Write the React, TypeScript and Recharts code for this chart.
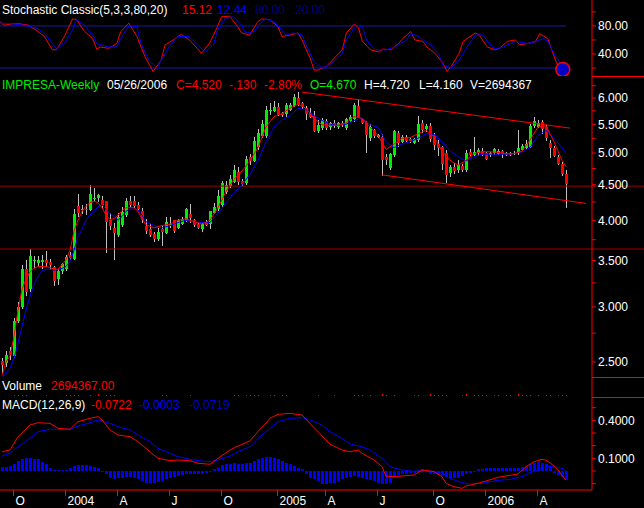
import React from 'react';
import { ComposedChart, Bar, Line, XAxis, YAxis, ReferenceLine, ReferenceDot } from 'recharts';

const FONT = '"Liberation Sans", Arial, Helvetica, sans-serif';
const WHITE = '#ffffff';
const GREEN = '#00ee00';
const RED = '#ff0000';
const BLUE = '#0000ff';
const NAVY = '#000088';
const LEVEL80 = '#1818b0';
const DARK_RED = '#a00000';
const WICK = '#c0c0c0';

const WIDTH = 644;
const AXIS_W = 52;
const SLOTS = 148; // 142 weekly bars + empty room before the price axis

// weekly bars, 12 Sep 2003 .. 26 May 2006
const opens = [
  2.51, 2.49, 2.59, 2.55, 2.86, 3.0, 3.4, 3.18, 3.5, 3.47,
  3.49, 3.5, 3.48, 3.42, 3.29, 3.38, 3.4, 3.56, 3.52, 4.2,
  4.14, 4.15, 4.15, 4.29, 4.3, 4.28, 4.27, 4.0, 3.9, 3.81,
  3.93, 4.07, 4.27, 4.27, 4.21, 4.12, 3.93, 3.89, 3.82, 3.76,
  3.88, 3.84, 3.94, 4.0, 3.9, 3.96, 4.0, 4.08, 4.0, 3.95,
  3.88, 3.97, 3.94, 4.1, 4.15, 4.2, 4.4, 4.48, 4.55, 4.7,
  4.55, 4.52, 4.94, 4.87, 5.1, 5.28, 5.3, 5.75, 5.76, 5.83,
  5.7, 5.68, 5.77, 5.86, 6.0, 5.9, 5.81, 5.71, 5.66, 5.38,
  5.43, 5.56, 5.44, 5.53, 5.45, 5.52, 5.44, 5.57, 5.6, 5.84,
  5.6, 5.54, 5.25, 5.39, 5.28, 5.28, 4.93, 4.75, 4.96, 5.35,
  5.2, 5.27, 5.23, 5.16, 5.22, 5.52, 5.4, 5.46, 5.3, 5.15,
  5.1, 5.0, 4.68, 4.77, 4.72, 4.79, 4.72, 5.02, 4.97, 5.0,
  5.03, 5.0, 4.96, 4.99, 4.99, 5.03, 5.0, 5.0, 5.0, 5.0,
  5.06, 5.08, 5.11, 5.47, 5.45, 5.54, 5.45, 5.17, 5.08, 4.94,
  4.82, 4.67,
];
const highs = [
  2.53, 2.59, 2.63, 2.89, 3.05, 3.45, 3.5, 3.64, 3.55, 3.55,
  3.57, 3.61, 3.52, 3.44, 3.4, 3.47, 3.56, 3.6, 4.15, 4.37,
  4.21, 4.22, 4.5, 4.45, 4.36, 4.33, 4.27, 4.1, 3.96, 4.1,
  4.18, 4.31, 4.33, 4.33, 4.25, 4.17, 4.02, 3.95, 3.85, 3.9,
  3.92, 4.05, 4.05, 4.0, 4.02, 4.04, 4.16, 4.22, 4.02, 3.97,
  3.98, 4.0, 4.13, 4.23, 4.42, 4.55, 4.55, 4.65, 4.8, 4.78,
  4.58, 4.95, 4.98, 5.28, 5.42, 5.58, 5.85, 5.9, 5.95, 5.9,
  5.72, 5.9, 5.9, 6.08, 6.13, 5.93, 5.85, 5.8, 5.75, 5.57,
  5.61, 5.6, 5.55, 5.57, 5.55, 5.56, 5.62, 5.68, 5.9, 5.98,
  5.62, 5.56, 5.5, 5.42, 5.33, 5.32, 4.98, 5.0, 5.4, 5.37,
  5.3, 5.3, 5.25, 5.25, 5.66, 5.58, 5.5, 5.52, 5.35, 5.22,
  5.12, 5.05, 4.8, 4.84, 4.88, 4.82, 5.05, 5.07, 5.28, 5.09,
  5.09, 5.02, 5.02, 5.08, 5.06, 5.05, 5.02, 5.02, 5.03, 5.4,
  5.15, 5.22, 5.5, 5.63, 5.58, 5.58, 5.48, 5.22, 5.12, 4.97,
  4.85, 4.72,
];
const lows = [
  2.41, 2.46, 2.52, 2.53, 2.84, 2.98, 3.11, 3.15, 3.41, 3.44,
  3.4, 3.43, 3.39, 3.22, 3.23, 3.35, 3.38, 3.5, 3.5, 4.05,
  4.08, 4.07, 4.12, 4.26, 4.25, 4.15, 3.59, 3.87, 3.5, 3.79,
  3.91, 4.05, 4.18, 4.16, 4.13, 3.97, 3.82, 3.79, 3.72, 3.74,
  3.67, 3.82, 3.9, 3.84, 3.88, 3.94, 3.98, 3.97, 3.91, 3.88,
  3.85, 3.92, 3.89, 4.08, 4.13, 4.16, 4.37, 4.45, 4.53, 4.5,
  4.48, 4.5, 4.8, 4.85, 5.05, 5.25, 5.25, 5.67, 5.72, 5.66,
  5.64, 5.64, 5.74, 5.82, 5.84, 5.78, 5.58, 5.62, 5.36, 5.34,
  5.4, 5.4, 5.4, 5.44, 5.42, 5.45, 5.4, 5.55, 5.55, 5.62,
  5.5, 5.0, 5.2, 5.25, 5.25, 4.64, 4.8, 4.73, 4.94, 5.1,
  5.16, 5.18, 5.17, 5.15, 5.18, 5.34, 5.36, 5.18, 5.05, 4.95,
  4.72, 4.52, 4.62, 4.66, 4.68, 4.7, 4.7, 4.95, 4.95, 4.95,
  4.95, 4.88, 4.94, 4.97, 4.97, 4.92, 4.95, 4.95, 4.96, 4.97,
  5.03, 5.05, 5.09, 5.44, 5.44, 5.33, 5.2, 4.92, 4.93, 4.8,
  4.64, 4.16,
];
const closes = [
  2.48, 2.56, 2.56, 2.86, 3.0, 3.4, 3.15, 3.55, 3.51, 3.51,
  3.51, 3.47, 3.45, 3.26, 3.38, 3.46, 3.54, 3.53, 4.09, 4.11,
  4.15, 4.13, 4.37, 4.3, 4.35, 4.21, 3.98, 3.92, 3.84, 4.04,
  4.11, 4.27, 4.21, 4.2, 4.15, 4.0, 3.86, 3.81, 3.76, 3.85,
  3.84, 3.98, 3.95, 3.86, 4.0, 4.02, 4.15, 4.02, 3.93, 3.9,
  3.95, 3.94, 4.12, 4.18, 4.33, 4.52, 4.5, 4.58, 4.73, 4.55,
  4.5, 4.9, 4.87, 5.2, 5.35, 5.5, 5.77, 5.77, 5.83, 5.68,
  5.66, 5.86, 5.86, 6.03, 5.86, 5.82, 5.69, 5.64, 5.38, 5.48,
  5.57, 5.43, 5.52, 5.48, 5.52, 5.48, 5.6, 5.64, 5.86, 5.64,
  5.53, 5.3, 5.45, 5.28, 5.31, 4.9, 4.88, 4.98, 5.37, 5.18,
  5.28, 5.2, 5.19, 5.23, 5.5, 5.39, 5.46, 5.23, 5.12, 5.08,
  4.82, 4.65, 4.78, 4.71, 4.8, 4.72, 5.0, 4.97, 5.02, 5.05,
  4.96, 4.9, 5.0, 5.06, 5.04, 4.98, 4.97, 4.97, 4.98, 5.09,
  5.12, 5.15, 5.47, 5.56, 5.53, 5.42, 5.25, 5.08, 4.95, 4.82,
  4.67, 4.52,
];

// moving averages on the price panel: [bar index, value]
const maFast: [number, number][] = [
  [0, 2.39], [1, 2.5], [2, 2.55], [3, 2.72], [4, 2.97], [5, 3.18], [6, 3.29], [7, 3.37], [8, 3.41], [9, 3.43],
  [10, 3.43], [11, 3.43], [12, 3.42], [13, 3.4], [14, 3.4], [15, 3.45], [16, 3.51], [17, 3.62], [18, 3.86], [19, 4.0],
  [20, 4.12], [21, 4.19], [22, 4.24], [23, 4.26], [24, 4.24], [25, 4.17], [26, 4.07], [27, 4.01], [28, 4.02], [29, 4.07],
  [30, 4.13], [31, 4.17], [32, 4.17], [33, 4.17], [34, 4.12], [35, 4.02], [36, 3.94], [38, 3.9], [40, 3.93], [42, 3.95],
  [44, 4.0], [46, 4.02], [48, 3.98], [50, 3.95], [52, 4.0], [54, 4.17], [56, 4.4], [58, 4.58], [60, 4.71], [62, 4.87],
  [64, 5.09], [66, 5.45], [68, 5.64], [70, 5.7], [72, 5.8], [74, 5.88], [76, 5.8], [78, 5.61], [80, 5.49], [82, 5.48],
  [84, 5.48], [86, 5.52], [88, 5.64], [90, 5.61], [92, 5.45], [94, 5.3], [96, 5.06], [98, 5.15], [100, 5.25], [102, 5.26],
  [104, 5.33], [106, 5.39], [108, 5.28], [110, 5.03], [112, 4.88], [114, 4.8], [116, 4.88], [118, 4.99], [120, 5.02], [122, 5.02],
  [124, 5.01], [126, 4.99], [128, 4.99], [130, 5.03], [132, 5.22], [134, 5.45], [136, 5.47], [138, 5.19], [140, 4.88], [141, 4.78],
];
const maSlow: [number, number][] = [
  [0, 2.37], [2, 2.45], [3, 2.53], [4, 2.66], [5, 2.81], [6, 2.97], [7, 3.11], [8, 3.23], [9, 3.32], [10, 3.38],
  [11, 3.4], [12, 3.4], [13, 3.39], [14, 3.4], [15, 3.41], [16, 3.43], [17, 3.49], [18, 3.62], [19, 3.79], [20, 3.88],
  [21, 4.0], [22, 4.07], [23, 4.12], [24, 4.18], [25, 4.21], [26, 4.15], [27, 4.09], [28, 4.05], [29, 4.0], [30, 4.05],
  [31, 4.12], [32, 4.15], [33, 4.15], [34, 4.14], [35, 4.07], [36, 3.98], [38, 3.93], [40, 3.9], [42, 3.93], [44, 3.97],
  [46, 4.0], [48, 3.98], [50, 3.97], [52, 3.97], [54, 4.09], [56, 4.24], [58, 4.38], [60, 4.5], [62, 4.66], [64, 4.88],
  [66, 5.18], [68, 5.45], [70, 5.58], [72, 5.66], [74, 5.8], [76, 5.77], [78, 5.66], [80, 5.57], [82, 5.5], [84, 5.48],
  [86, 5.5], [88, 5.57], [90, 5.61], [92, 5.49], [94, 5.45], [96, 5.19], [98, 5.09], [100, 5.15], [102, 5.19], [104, 5.25],
  [106, 5.33], [108, 5.32], [110, 5.19], [112, 5.03], [114, 4.94], [116, 4.87], [118, 4.94], [120, 4.98], [122, 4.98], [124, 4.98],
  [126, 4.98], [128, 4.99], [130, 5.02], [132, 5.09], [134, 5.3], [136, 5.39], [138, 5.25], [140, 5.09], [141, 4.99],
];

// stochastic %K (red) and %D (blue)
const stochK: [number, number][] = [
  [0, 86], [1, 81], [3, 83], [5, 83], [7, 81], [9, 74], [11, 65], [13, 46], [14, 46], [16, 65],
  [18, 90], [19, 89], [21, 72], [23, 62], [24, 47], [25, 50], [27, 48], [29, 55], [30, 72], [32, 84],
  [34, 65], [36, 36], [38, 15], [40, 31], [41, 53], [43, 60], [45, 68], [47, 60], [49, 48], [50, 41],
  [52, 55], [54, 79], [55, 93], [57, 94], [59, 79], [60, 70], [62, 67], [64, 86], [65, 90], [67, 89],
  [69, 79], [70, 65], [72, 67], [74, 70], [75, 60], [77, 34], [78, 17], [79, 17], [80, 20], [81, 22],
  [83, 34], [85, 46], [86, 70], [88, 83], [89, 77], [90, 58], [92, 46], [94, 43], [95, 47], [97, 46],
  [99, 55], [100, 62], [102, 72], [103, 60], [105, 58], [106, 50], [108, 41], [110, 27], [111, 15], [112, 22],
  [114, 41], [115, 58], [118, 70], [119, 67], [121, 50], [123, 46], [124, 48], [126, 58], [128, 60], [129, 53],
  [131, 55], [133, 58], [134, 69], [136, 62], [137, 46], [138, 30], [139, 18], [140, 15], [141, 15.12],
];
const stochD: [number, number][] = [
  [0, 84], [3, 83], [6, 81], [9, 77], [11, 70], [13, 55], [14, 48], [16, 55], [18, 74], [19, 89],
  [21, 81], [23, 67], [24, 55], [27, 50], [29, 50], [30, 62], [32, 80], [34, 79], [35, 55], [37, 31],
  [39, 20], [40, 31], [42, 50], [44, 65], [47, 65], [49, 53], [51, 43], [53, 53], [54, 74], [56, 91],
  [58, 93], [60, 81], [61, 70], [63, 72], [65, 86], [66, 90], [68, 86], [70, 74], [71, 67], [73, 70],
  [75, 67], [76, 53], [78, 29], [80, 20], [81, 22], [83, 29], [85, 41], [86, 60], [88, 77], [90, 79],
  [91, 60], [93, 46], [95, 46], [96, 46], [98, 50], [101, 60], [102, 69], [104, 65], [106, 56], [107, 53],
  [109, 39], [110, 24], [112, 20], [114, 31], [116, 50], [118, 67], [120, 67], [121, 58], [123, 47], [125, 50],
  [126, 53], [128, 58], [130, 56], [131, 55], [133, 58], [135, 62], [136, 58], [138, 36], [140, 22], [141, 12.44],
];

// MACD (red), signal (blue), histogram
const macdLine: [number, number][] = [
  [0, 0.152], [2, 0.166], [4, 0.271], [7, 0.363], [9, 0.381], [12, 0.376], [14, 0.337], [17, 0.329], [19, 0.389], [22, 0.416],
  [24, 0.429], [25, 0.403], [27, 0.324], [29, 0.284], [32, 0.271], [34, 0.231], [37, 0.152], [39, 0.1], [42, 0.081], [44, 0.087],
  [47, 0.081], [49, 0.061], [52, 0.053], [54, 0.1], [57, 0.166], [59, 0.197], [62, 0.239], [64, 0.31], [67, 0.416], [69, 0.447],
  [72, 0.455], [75, 0.442], [77, 0.376], [80, 0.278], [82, 0.212], [85, 0.166], [87, 0.152], [89, 0.166], [90, 0.14], [93, 0.087],
  [95, 0.034], [96, -0.04], [98, -0.045], [100, -0.039], [103, -0.032], [105, 0.008], [108, -0.005], [110, -0.045], [111, -0.097], [113, -0.124],
  [115, -0.137], [116, -0.118], [119, -0.097], [121, -0.079], [124, -0.05], [126, -0.039], [129, -0.024], [131, 0.034], [133, 0.073], [135, 0.092],
  [136, 0.085], [138, 0.04], [139, 0.01], [140, -0.035], [141, -0.0722],
];
const signalLine: [number, number][] = [
  [0, 0.118], [2, 0.14], [4, 0.192], [7, 0.258], [9, 0.31], [12, 0.329], [14, 0.329], [17, 0.329], [19, 0.355], [22, 0.381],
  [24, 0.403], [27, 0.376], [29, 0.35], [32, 0.324], [34, 0.284], [37, 0.231], [39, 0.179], [42, 0.14], [44, 0.113], [47, 0.092],
  [49, 0.081], [52, 0.073], [54, 0.087], [57, 0.118], [59, 0.152], [62, 0.192], [64, 0.258], [67, 0.337], [69, 0.389], [72, 0.416],
  [75, 0.421], [77, 0.403], [80, 0.363], [82, 0.31], [85, 0.258], [87, 0.213], [90, 0.192], [92, 0.166], [95, 0.1], [97, 0.034],
  [100, 0.008], [102, 0], [105, -0.005], [107, -0.005], [110, -0.018], [112, -0.058], [115, -0.092], [117, -0.103], [120, -0.097], [122, -0.084],
  [125, -0.071], [127, -0.066], [130, -0.045], [132, -0.013], [135, 0.021], [137, 0.039], [140, 0.021], [141, -0.0003],
];
const macdHist = [
  0.032, 0.032, 0.039, 0.053, 0.079, 0.092, 0.1, 0.1, 0.092, 0.092,
  0.074, 0.053, 0.026, 0.011, 0.005, 0.005, 0.011, 0.026, 0.039, 0.045,
  0.047, 0.045, 0.039, 0.032, 0.026, 0, -0.026, -0.053, -0.066, -0.058,
  -0.053, -0.047, -0.047, -0.053, -0.066, -0.079, -0.092, -0.092, -0.092, -0.087,
  -0.079, -0.066, -0.053, -0.047, -0.042, -0.034, -0.026, -0.026, -0.021, -0.021,
  -0.021, -0.013, 0, 0.013, 0.026, 0.045, 0.053, 0.058, 0.061, 0.058,
  0.058, 0.066, 0.066, 0.079, 0.092, 0.105, 0.11, 0.11, 0.105, 0.092,
  0.079, 0.066, 0.053, 0.039, 0.026, 0.013, -0.026, -0.053, -0.066, -0.079,
  -0.1, -0.1, -0.092, -0.092, -0.079, -0.066, -0.058, -0.047, -0.039, -0.047,
  -0.058, -0.066, -0.074, -0.079, -0.092, -0.105, -0.105, -0.092, -0.047, -0.032,
  -0.026, -0.021, -0.016, -0.013, 0.008, 0.013, 0.005, -0.021, -0.026, -0.032,
  -0.039, -0.047, -0.053, -0.058, -0.053, -0.039, -0.026, -0.013, 0, 0.013,
  0.018, 0.021, 0.021, 0.021, 0.021, 0.021, 0.024, 0.026, 0.026, 0.026,
  0.032, 0.039, 0.053, 0.066, 0.074, 0.066, 0.053, 0.039, -0.013, -0.032,
  -0.047, -0.0719,
];

// squeezed volume pane: only the tips of the bars show
const volume: [number, number][] = [
  [3, 1], [4, 1], [5, 1], [6, 1], [11, 1], [16, 1], [17, 1], [18, 1], [19, 1], [22, 1],
  [24, 2], [26, 1], [27, 1], [28, 1], [40, 1], [41, 1], [47, 1], [58, 1], [59, 1], [61, 1],
  [62, 1], [63, 1], [64, 1], [67, 1], [68, 1], [70, 1], [71, 1], [79, 1], [83, 1], [88, 1],
  [89, 1], [90, 1], [92, 1], [95, 2], [96, 1], [98, 1], [103, 1], [104, 1], [107, 2], [108, 1],
  [109, 1], [110, 1], [111, 1], [115, 1], [116, 2], [118, 1], [119, 1], [120, 1], [121, 1], [123, 1],
  [124, 1], [126, 1], [127, 1], [129, 2], [130, 1], [131, 1], [132, 1], [134, 1], [136, 1], [137, 1],
  [139, 1], [140, 1], [141, 1],
];

// x axis
const monthIdx = [3, 16, 29, 42, 55, 69, 81, 94, 108, 121, 134];
const monthLabels = ['O', '2004', 'A', 'J', 'O', '2005', 'A', 'J', 'O', '2006', 'A'];

// right axes
const stochTicks = [20, 40, 60, 80, 100];
const stochLabels = [40, 80];
const priceTicks = [2.5, 2.75, 3, 3.25, 3.5, 3.75, 4, 4.25, 4.5, 4.75, 5, 5.25, 5.5, 5.75, 6, 6.25];
const priceLabels = [2.5, 3, 3.5, 4, 4.5, 5, 5.5, 6];
const macdTicks = [-0.1, 0, 0.1, 0.2, 0.3, 0.4, 0.5];
const macdLabels = [0.1, 0.4];

// drawn objects on the price pane
const priceLevels = [4.48, 3.636];
const upperTrend = [{ x: 75, y: 6.12 }, { x: 142, y: 5.43 }];
const lowerTrend = [{ x: 95, y: 4.65 }, { x: 146, y: 4.23 }];

const sparse = (pts: [number, number][]) => {
  const out: (number | null)[] = new Array(SLOTS).fill(null);
  pts.forEach(([k, v]) => { out[k] = v; });
  return out;
};
const fastArr = sparse(maFast);
const slowArr = sparse(maSlow);
const kArr = sparse(stochK);
const dArr = sparse(stochD);
const macdArr = sparse(macdLine);
const sigArr = sparse(signalLine);
const volArr = sparse(volume);

const rows = Array.from({ length: SLOTS }, (_, i) => ({
  i,
  open: opens[i] ?? null,
  high: highs[i] ?? null,
  low: lows[i] ?? null,
  close: closes[i] ?? null,
  maFast: fastArr[i],
  maSlow: slowArr[i],
  k: kArr[i],
  d: dArr[i],
  macd: macdArr[i],
  signal: sigArr[i],
  hist: macdHist[i] ?? null,
  vol: volArr[i],
}));

const Candle = (props: any) => {
  const { x, y, height, payload } = props;
  if (!payload || payload.high == null || !isFinite(y)) return <g />;
  const top = Math.min(y, y + height);
  const h = Math.abs(height);
  const lnH = Math.log(payload.high);
  const span = lnH - Math.log(payload.low) || 1;
  const py = (p: number) => top + (h * (lnH - Math.log(p))) / span;
  const bx = Math.round(x);
  const cx = bx + 1.5;
  const up = payload.close >= payload.open;
  const b1 = py(Math.max(payload.open, payload.close));
  const b2 = py(Math.min(payload.open, payload.close));
  return (
    <g shapeRendering="crispEdges">
      <line x1={cx} x2={cx} y1={top} y2={top + h} stroke={WICK} />
      <rect x={bx} y={Math.round(b1)} width={3} height={Math.max(1, Math.round(b2 - b1))} fill={up ? GREEN : RED} />
    </g>
  );
};

const HistBar = (props: any) => {
  const { x, y, height } = props;
  if (height == null || !isFinite(y)) return <g />;
  const top = Math.min(y, y + height);
  return (
    <rect x={Math.round(x)} y={Math.round(top)} width={3} height={Math.max(1, Math.round(Math.abs(height)))}
      fill={BLUE} shapeRendering="crispEdges" />
  );
};

const VolTick = (props: any) => {
  const { x, y, height } = props;
  if (height == null || !isFinite(y)) return <g />;
  const top = Math.min(y, y + height);
  return <rect x={Math.round(x)} y={Math.round(top)} width={1} height={Math.max(1, Math.round(Math.abs(height)))} fill={RED} shapeRendering="crispEdges" />;
};

const RightTick = (props: any) => {
  const { x, y, payload, labels, digits } = props;
  if (!labels.includes(payload.value)) return <g />;
  return (
    <text x={x} y={y} dy={4.3} fill={WHITE} fontSize={12} fontFamily={FONT} textAnchor="start">
      {Number(payload.value).toFixed(digits)}
    </text>
  );
};

const MACD_H = 111;
const X_AXIS_H = 18;

const DateTick = (props: any) => {
  const { x, payload } = props;
  const k = monthIdx.indexOf(payload.value);
  if (k < 0) return <g />;
  const axisY = MACD_H - X_AXIS_H;
  const tx = Math.round(x) - 0.5;
  return (
    <g>
      <line x1={tx} x2={tx} y1={axisY} y2={axisY + 6} stroke={RED} />
      <text x={tx + 2} y={axisY + 15} fill={WHITE} fontSize={12} fontFamily={FONT}>{monthLabels[k]}</text>
    </g>
  );
};

const M = { top: 0, right: 0, bottom: 0, left: 0 };

const yAxisStyle = {
  orientation: 'right' as const,
  width: AXIS_W,
  axisLine: { stroke: RED },
  tickLine: { stroke: RED },
  tickSize: 4,
  tickMargin: 2,
  interval: 0 as const,
  allowDataOverflow: true,
};

const lineStyle = {
  strokeWidth: 1,
  dot: false,
  activeDot: false,
  connectNulls: true,
  isAnimationActive: false,
};

const titles: { y: number; parts: [string, string, number][] }[] = [
  { y: 10, parts: [['Stochastic Classic(5,3,3,80,20)', WHITE, 2], ['15.12', RED, 182], ['12.44', BLUE, 217], ['80.00', NAVY, 255], ['20.00', NAVY, 295]] },
  {
    y: 85,
    parts: [['IMPRESA-Weekly', GREEN, 2], ['05/26/2006', WHITE, 107], ['C=4.520', RED, 176], ['-.130', RED, 229], ['-2.80%', RED, 264],
      ['O=4.670', GREEN, 310], ['H=4.720', WHITE, 364], ['L=4.160', WHITE, 419], ['V=2694367', WHITE, 470]],
  },
  { y: 385.5, parts: [['Volume', WHITE, 2], ['2694367.00', RED, 51]] },
  { y: 404.5, parts: [['MACD(12,26,9)', WHITE, 2], ['-0.0722', RED, 91], ['-0.0003', BLUE, 139], ['-0.0719', '#0000cc', 189]] },
];

const panel = (top: number): React.CSSProperties => ({ position: 'absolute', left: 0, top });

export default function App() {
  return (
    <div style={{ position: 'absolute', left: 0, top: 0, width: WIDTH, height: 508, background: '#000', overflow: 'hidden', fontFamily: FONT }}>
      <div style={panel(0)}>
        <ComposedChart width={WIDTH} height={76} data={rows} margin={M}>
          <XAxis dataKey="i" type="category" hide />
          <XAxis xAxisId="n" dataKey="i" type="number" domain={[-0.5, SLOTS - 0.5]} allowDataOverflow hide />
          <YAxis {...yAxisStyle} domain={[8.6, 117]} ticks={stochTicks}
            tick={(p: any) => <RightTick {...p} labels={stochLabels} digits={2} />} />
          <ReferenceLine xAxisId="n" segment={[{ x: -0.5, y: 80 }, { x: 141, y: 80 }]} stroke={LEVEL80} ifOverflow="visible" />
          <ReferenceLine xAxisId="n" segment={[{ x: -0.5, y: 20 }, { x: 141, y: 20 }]} stroke={LEVEL80} ifOverflow="visible" />
          <Line dataKey="k" stroke={RED} {...lineStyle} />
          <Line dataKey="d" stroke={BLUE} {...lineStyle} />
          <ReferenceDot xAxisId="n" x={140.2} y={18} r={7} fill="#0000c8" stroke={RED} strokeWidth={1.5} ifOverflow="visible" />
        </ComposedChart>
      </div>

      <div style={panel(76)}>
        <ComposedChart width={WIDTH} height={301} data={rows} margin={M}>
          <XAxis dataKey="i" type="category" hide />
          <XAxis xAxisId="n" dataKey="i" type="number" domain={[-0.5, SLOTS - 0.5]} allowDataOverflow hide />
          <YAxis {...yAxisStyle} type="number" scale="log" domain={[2.378, 6.455]} ticks={priceTicks}
            tick={(p: any) => <RightTick {...p} labels={priceLabels} digits={3} />} />
          {priceLevels.map((v) => (
            <ReferenceLine key={v} xAxisId="n" segment={[{ x: -0.5, y: v }, { x: 160.5, y: v }]} stroke={DARK_RED} ifOverflow="visible" />
          ))}
          <Bar dataKey={(d: any) => (d.high == null ? null : [d.low, d.high])} barSize={3}
            shape={(p: any) => <Candle {...p} />} isAnimationActive={false} />
          <Line dataKey="maSlow" stroke={BLUE} {...lineStyle} />
          <Line dataKey="maFast" stroke={RED} {...lineStyle} />
          <ReferenceLine xAxisId="n" segment={upperTrend} stroke={RED} ifOverflow="visible" />
          <ReferenceLine xAxisId="n" segment={lowerTrend} stroke={RED} ifOverflow="visible" />
        </ComposedChart>
      </div>

      <div style={panel(377)}>
        <ComposedChart width={WIDTH} height={20} data={rows} margin={M}>
          <XAxis dataKey="i" type="category" hide />
          <YAxis orientation="right" width={AXIS_W} domain={[-1, 19]} allowDataOverflow tick={false} tickLine={false} axisLine={{ stroke: RED }} />
          <Bar dataKey="vol" barSize={1} shape={(p: any) => <VolTick {...p} />} isAnimationActive={false} />
        </ComposedChart>
      </div>

      <div style={panel(397)}>
        <ComposedChart width={WIDTH} height={MACD_H} data={rows} margin={M}>
          <XAxis dataKey="i" type="category" interval={0} height={X_AXIS_H} axisLine={{ stroke: RED }} tickLine={false}
            tick={(p: any) => <DateTick {...p} />} />
          <YAxis {...yAxisStyle} domain={[-0.15, 0.584]} ticks={macdTicks}
            tick={(p: any) => <RightTick {...p} labels={macdLabels} digits={4} />} />
          <Bar dataKey="hist" barSize={3} shape={(p: any) => <HistBar {...p} />} isAnimationActive={false} />
          <Line dataKey="signal" stroke={BLUE} {...lineStyle} />
          <Line dataKey="macd" stroke={RED} {...lineStyle} />
        </ComposedChart>
      </div>

      {[76, 377, 397].map((t) => (
        <div key={t} style={{ position: 'absolute', left: 592, top: t, width: AXIS_W, height: 1, background: RED }} />
      ))}

      {titles.map((row) =>
        row.parts.map(([txt, color, x]) => (
          <div key={row.y + txt} style={{ position: 'absolute', left: x, top: row.y - 7, height: 14, lineHeight: '14px', fontSize: 12, color, whiteSpace: 'pre', pointerEvents: 'none' }}>
            {txt}
          </div>
        )),
      )}
    </div>
  );
}
